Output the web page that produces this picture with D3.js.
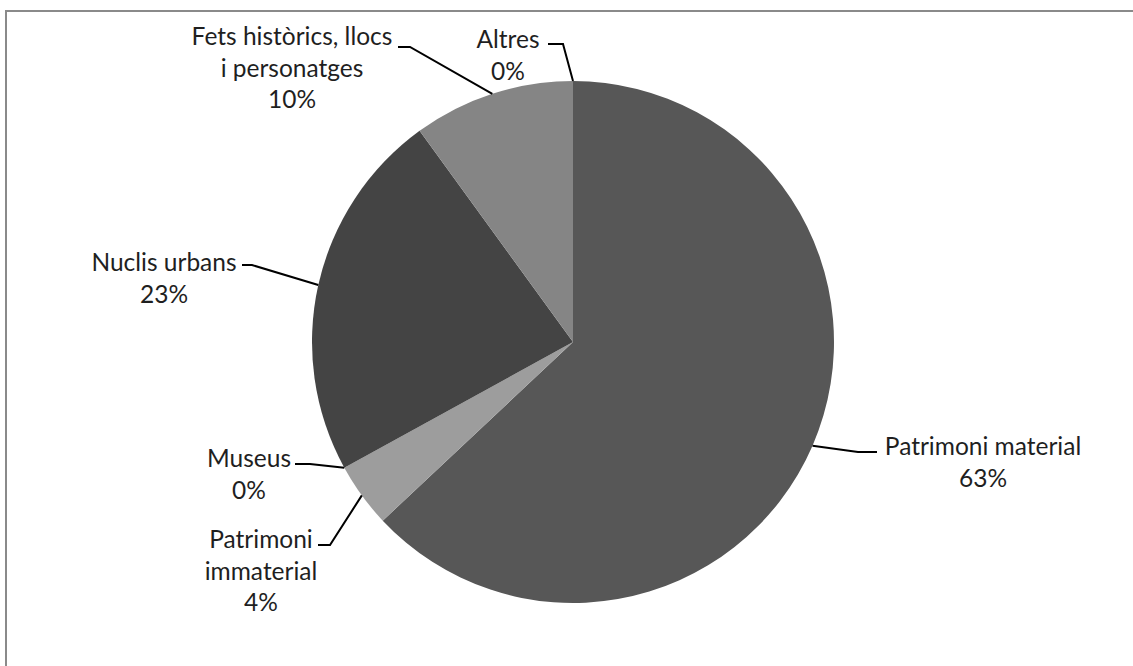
<!DOCTYPE html>
<html>
<head>
<meta charset="utf-8">
<script src="https://cdn.jsdelivr.net/npm/d3@7"></script>
<style>
  html, body { margin: 0; padding: 0; background: #fff; }
  svg { display: block; }
  text { font-family: Lato, "Open Sans", sans-serif; fill: #1f1f1f; }
</style>
</head>
<body>
<svg id="chart" width="1133" height="666"></svg>
<script>
// Themes of the catalogued items, clockwise from 12 o'clock
const categories = [
  "Patrimoni material",
  "Patrimoni immaterial",
  "Museus",
  "Nuclis urbans",
  "Fets històrics, llocs i personatges",
  "Altres"
];
const shares = [63, 4, 0, 23, 10, 0];
const sliceColors = ["#575757", "#9d9d9d", "#7a7a7a", "#444444", "#858585", "#6a6a6a"];

// Label placement: text lines, text centre, first baseline, leader elbow and end
const labelLayout = {
  "Patrimoni material":                  { lines: ["Patrimoni material"], x: 983, y: 455, elbow: [858, 452], end: [877, 452] },
  "Patrimoni immaterial":                { lines: ["Patrimoni", "immaterial"], x: 261, y: 548, elbow: [330, 545], end: [318, 545] },
  "Museus":                              { lines: ["Museus"], x: 249, y: 467, elbow: [310, 464], end: [295, 464] },
  "Nuclis urbans":                       { lines: ["Nuclis urbans"], x: 164, y: 271, elbow: [252, 265], end: [242, 265] },
  "Fets històrics, llocs i personatges": { lines: ["Fets històrics, llocs", "i personatges"], x: 292, y: 45, elbow: [410, 47], end: [398, 47] },
  "Altres":                              { lines: ["Altres"], x: 508, y: 48, elbow: [563, 44], end: [548, 44] }
};

const svg = d3.select("#chart");
const cx = 573, cy = 342, radius = 261;
const lineHeight = 31.5;

// frame
svg.append("rect")
  .attr("x", 6).attr("y", 11)
  .attr("width", 1200).attr("height", 700)
  .attr("fill", "none")
  .attr("stroke", "#8a8a8a")
  .attr("stroke-width", 2);

const data = categories.map((name, i) => ({ name, value: shares[i], color: sliceColors[i] }));
const total = d3.sum(shares);
const pct = d3.format(".0%");

const pie = d3.pie().sort(null).value(d => d.value);
const arcs = pie(data);
const arc = d3.arc().innerRadius(0).outerRadius(radius);

const g = svg.append("g").attr("transform", `translate(${cx},${cy})`);

g.selectAll("path.slice")
  .data(arcs.filter(a => a.value > 0))
  .join("path")
  .attr("class", "slice")
  .attr("d", arc)
  .attr("fill", a => a.data.color);

// point on the rim at the middle angle of each slice
function rimPoint(a) {
  const ang = (a.startAngle + a.endAngle) / 2;
  return [cx + radius * Math.sin(ang), cy - radius * Math.cos(ang)];
}

arcs.forEach(a => {
  const lay = labelLayout[a.data.name];
  const p = rimPoint(a);
  svg.append("polyline")
    .attr("points", [p, lay.elbow, lay.end].map(q => q.join(",")).join(" "))
    .attr("fill", "none")
    .attr("stroke", "#000")
    .attr("stroke-width", 2);

  const t = svg.append("text")
    .attr("text-anchor", "middle")
    .attr("font-size", 24.5);
  const lines = lay.lines.concat([pct(a.data.value / total)]);
  lines.forEach((s, i) => {
    t.append("tspan")
      .attr("x", lay.x)
      .attr("y", lay.y + i * lineHeight)
      .text(s);
  });
});
</script>
</body>
</html>
